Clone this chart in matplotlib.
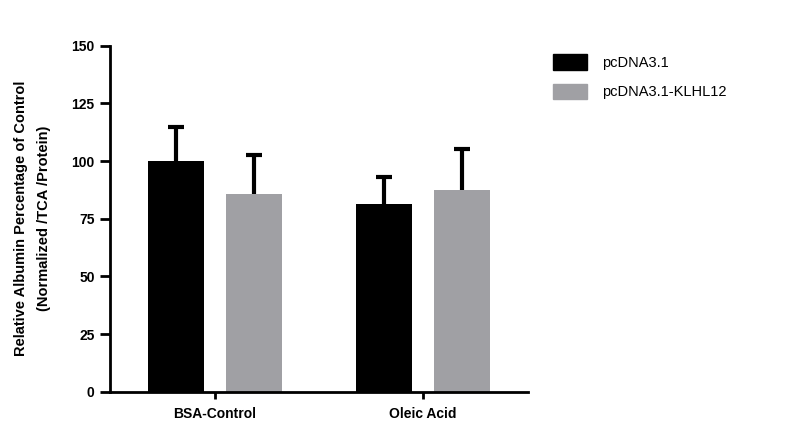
import numpy as np
import matplotlib.pyplot as plt
from matplotlib.patches import Patch

groups = ["BSA-Control", "Oleic Acid"]
series = ["pcDNA3.1", "pcDNA3.1-KLHL12"]
means = {
    "pcDNA3.1": [100.2, 81.2],
    "pcDNA3.1-KLHL12": [85.8, 87.4],
}
errs = {
    "pcDNA3.1": [14.4, 11.9],
    "pcDNA3.1-KLHL12": [16.7, 17.9],
}
colors = {"pcDNA3.1": "#000000", "pcDNA3.1-KLHL12": "#a0a0a4"}
yticks = [0, 25, 50, 75, 100, 125, 150]

plt.rcParams["font.family"] = ["Liberation Sans", "DejaVu Sans"]

fig = plt.figure(figsize=(7.93, 4.34), dpi=100)
ax = fig.add_axes([0.1387, 0.0975, 0.5271, 0.7972])

x = np.arange(len(groups))
width = 0.27
cap = 0.04
offsets = [-0.1875, 0.1875]
for s, off in zip(series, offsets):
    xs = x + off
    m = np.array(means[s])
    top = m + np.array(errs[s])
    ax.bar(xs, m, width, color=colors[s], zorder=2)
    # upper-only error bars (SD)
    ax.vlines(xs, m, top, color="black", linewidth=3, zorder=3)
    ax.hlines(top, xs - cap, xs + cap, color="black", linewidth=3, zorder=3)

ax.set_xlim(-0.505, 1.505)
ax.set_ylim(0, 150)
ax.set_yticks(yticks)
ax.set_yticklabels([str(t) for t in yticks], fontsize=10, fontweight="bold")
ax.set_xticks(x)
ax.set_xticklabels(groups, fontsize=10, fontweight="bold")

for side in ["top", "right"]:
    ax.spines[side].set_visible(False)
for side in ["left", "bottom"]:
    ax.spines[side].set_linewidth(2)
ax.tick_params(axis="y", width=2, length=7, pad=4)
ax.tick_params(axis="x", width=2, length=5, pad=6)

ax.set_ylabel("Relative Albumin Percentage of Control\n(Normalized /TCA /Protein)",
              fontsize=10.5, fontweight="bold", labelpad=15, linespacing=1.8)

handles = [Patch(color=colors[s], label=s) for s in series]
fig.legend(handles=handles, loc="upper left", bbox_to_anchor=(0.697, 0.875),
           frameon=False, fontsize=10.5, borderpad=0, borderaxespad=0,
           handlelength=2.35, handleheight=1.25,
           handletextpad=1.0, labelspacing=0.95)

plt.savefig("out.png", dpi=100)
plt.close()
